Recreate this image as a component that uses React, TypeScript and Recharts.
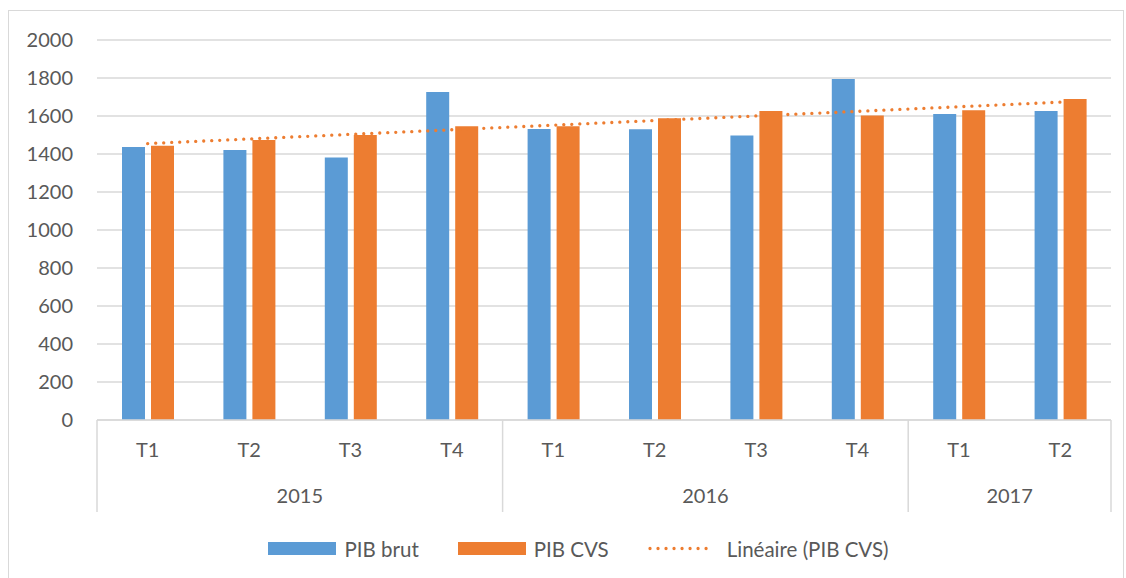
import React from "react";
import { Bar, CartesianGrid, ComposedChart, Legend, Line, XAxis, YAxis } from "recharts";

const QUARTERS = ["T1", "T2", "T3", "T4", "T1", "T2", "T3", "T4", "T1", "T2"];
const YEARS = ["2015", "2015", "2015", "2015", "2016", "2016", "2016", "2016", "2017", "2017"];
const PIB_BRUT = [1437, 1421, 1381, 1726, 1532, 1530, 1498, 1795, 1611, 1626];
const PIB_CVS = [1444, 1474, 1500, 1546, 1546, 1588, 1626, 1602, 1630, 1689];
// trend line (Linéaire) read at its two ends
const TREND_CVS = [1455, null, null, null, null, null, null, null, null, 1673];
const Y_TICKS = [0, 200, 400, 600, 800, 1000, 1200, 1400, 1600, 1800, 2000];

const BLUE = "#5B9BD5";
const ORANGE = "#ED7D31";
const TEXT = "#595959";
const GRID = "#D9D9D9";
const FONT = "Lato, 'Open Sans', sans-serif";

const W = 1126;
const H = 578;
const PLOT_LEFT = 97;
const PLOT_RIGHT = 1111;
const PLOT_BOTTOM = 420;
const SEP_BOTTOM = 512;
const BAND = (PLOT_RIGHT - PLOT_LEFT) / QUARTERS.length;

const data = QUARTERS.map((q, i) => ({
  quarter: q,
  year: YEARS[i],
  brut: PIB_BRUT[i],
  cvs: PIB_CVS[i],
  trend: TREND_CVS[i],
}));

const GROUPS: { year: string; start: number; size: number }[] = [];
YEARS.forEach((y, i) => {
  const last = GROUPS[GROUPS.length - 1];
  if (last && last.year === y) last.size += 1;
  else GROUPS.push({ year: y, start: i, size: 1 });
});

function YearTick(props: any) {
  const { x, y, payload } = props;
  const i = payload?.index ?? props.index;
  const g = GROUPS.find((gr) => gr.start === i);
  const isLast = i === YEARS.length - 1;
  return (
    <g>
      {g && (
        <line x1={x - BAND / 2} x2={x - BAND / 2} y1={PLOT_BOTTOM} y2={SEP_BOTTOM} stroke={GRID} strokeWidth={1.5} />
      )}
      {isLast && (
        <line x1={x + BAND / 2} x2={x + BAND / 2} y1={PLOT_BOTTOM} y2={SEP_BOTTOM} stroke={GRID} strokeWidth={1.5} />
      )}
      {g && (
        <text
          x={x + ((g.size - 1) * BAND) / 2}
          y={y}
          dy="0.71em"
          textAnchor="middle"
          fill={TEXT}
          fontSize={20}
          fontFamily={FONT}
        >
          {g.year}
        </text>
      )}
    </g>
  );
}

function ChartLegend() {
  const item = { display: "flex", alignItems: "center" } as const;
  const label = { color: TEXT, fontSize: 20.5, fontFamily: FONT, marginLeft: 8 };
  return (
    <div
      style={{
        height: 65,
        display: "flex",
        justifyContent: "center",
        alignItems: "center",
        gap: 39,
        paddingTop: 6,
        paddingLeft: 46,
        boxSizing: "border-box",
      }}
    >
      <div style={item}>
        <div style={{ width: 68, height: 13, background: BLUE }} />
        <span style={label}>PIB brut</span>
      </div>
      <div style={item}>
        <div style={{ width: 68, height: 13, background: ORANGE }} />
        <span style={label}>PIB CVS</span>
      </div>
      <div style={item}>
        <svg width={68} height={13}>
          <line
            x1={2}
            x2={66}
            y1={6.5}
            y2={6.5}
            stroke={ORANGE}
            strokeWidth={3.3}
            strokeDasharray="0.01 8"
            strokeLinecap="round"
          />
        </svg>
        <span style={{ ...label, marginLeft: 11 }}>Linéaire (PIB CVS)</span>
      </div>
    </div>
  );
}

export default function App() {
  return (
    <div style={{ position: "absolute", left: 0, top: 0, width: W, height: H, overflow: "hidden", background: "#fff" }}>
      <div
        style={{
          position: "absolute",
          left: 8,
          top: 10,
          width: 1116,
          height: 600,
          border: `1.5px solid ${GRID}`,
          boxSizing: "border-box",
        }}
      />
      <ComposedChart
        width={W}
        height={H}
        data={data}
        margin={{ top: 40, right: W - PLOT_RIGHT, left: 0, bottom: 0 }}
        barSize={23}
        barGap={6}
        style={{ position: "absolute", left: 0, top: 0 }}
      >
        <CartesianGrid vertical={false} stroke={GRID} strokeWidth={1.5} />
        <YAxis
          width={PLOT_LEFT}
          domain={[0, 2000]}
          ticks={Y_TICKS}
          axisLine={false}
          tickLine={false}
          tickSize={0}
          tickMargin={24}
          tick={{ fill: TEXT, fontSize: 20, fontFamily: FONT }}
        />
        <XAxis
          dataKey="quarter"
          interval={0}
          height={46}
          axisLine={{ stroke: GRID, strokeWidth: 1.5 }}
          tickLine={false}
          tickSize={0}
          tickMargin={23}
          tick={{ fill: TEXT, fontSize: 20, fontFamily: FONT }}
        />
        <XAxis
          xAxisId="year"
          dataKey="year"
          interval={0}
          height={47}
          axisLine={false}
          tickLine={false}
          tickSize={0}
          tickMargin={23}
          tick={<YearTick />}
        />
        <Bar dataKey="brut" name="PIB brut" fill={BLUE} isAnimationActive={false} />
        <Bar dataKey="cvs" name="PIB CVS" fill={ORANGE} isAnimationActive={false} />
        <Line
          type="linear"
          dataKey="trend"
          name="Linéaire (PIB CVS)"
          connectNulls
          stroke={ORANGE}
          strokeWidth={3.3}
          strokeDasharray="0.01 8"
          strokeLinecap="round"
          dot={false}
          activeDot={false}
          isAnimationActive={false}
        />
        <Legend verticalAlign="bottom" content={<ChartLegend />} />
      </ComposedChart>
    </div>
  );
}
